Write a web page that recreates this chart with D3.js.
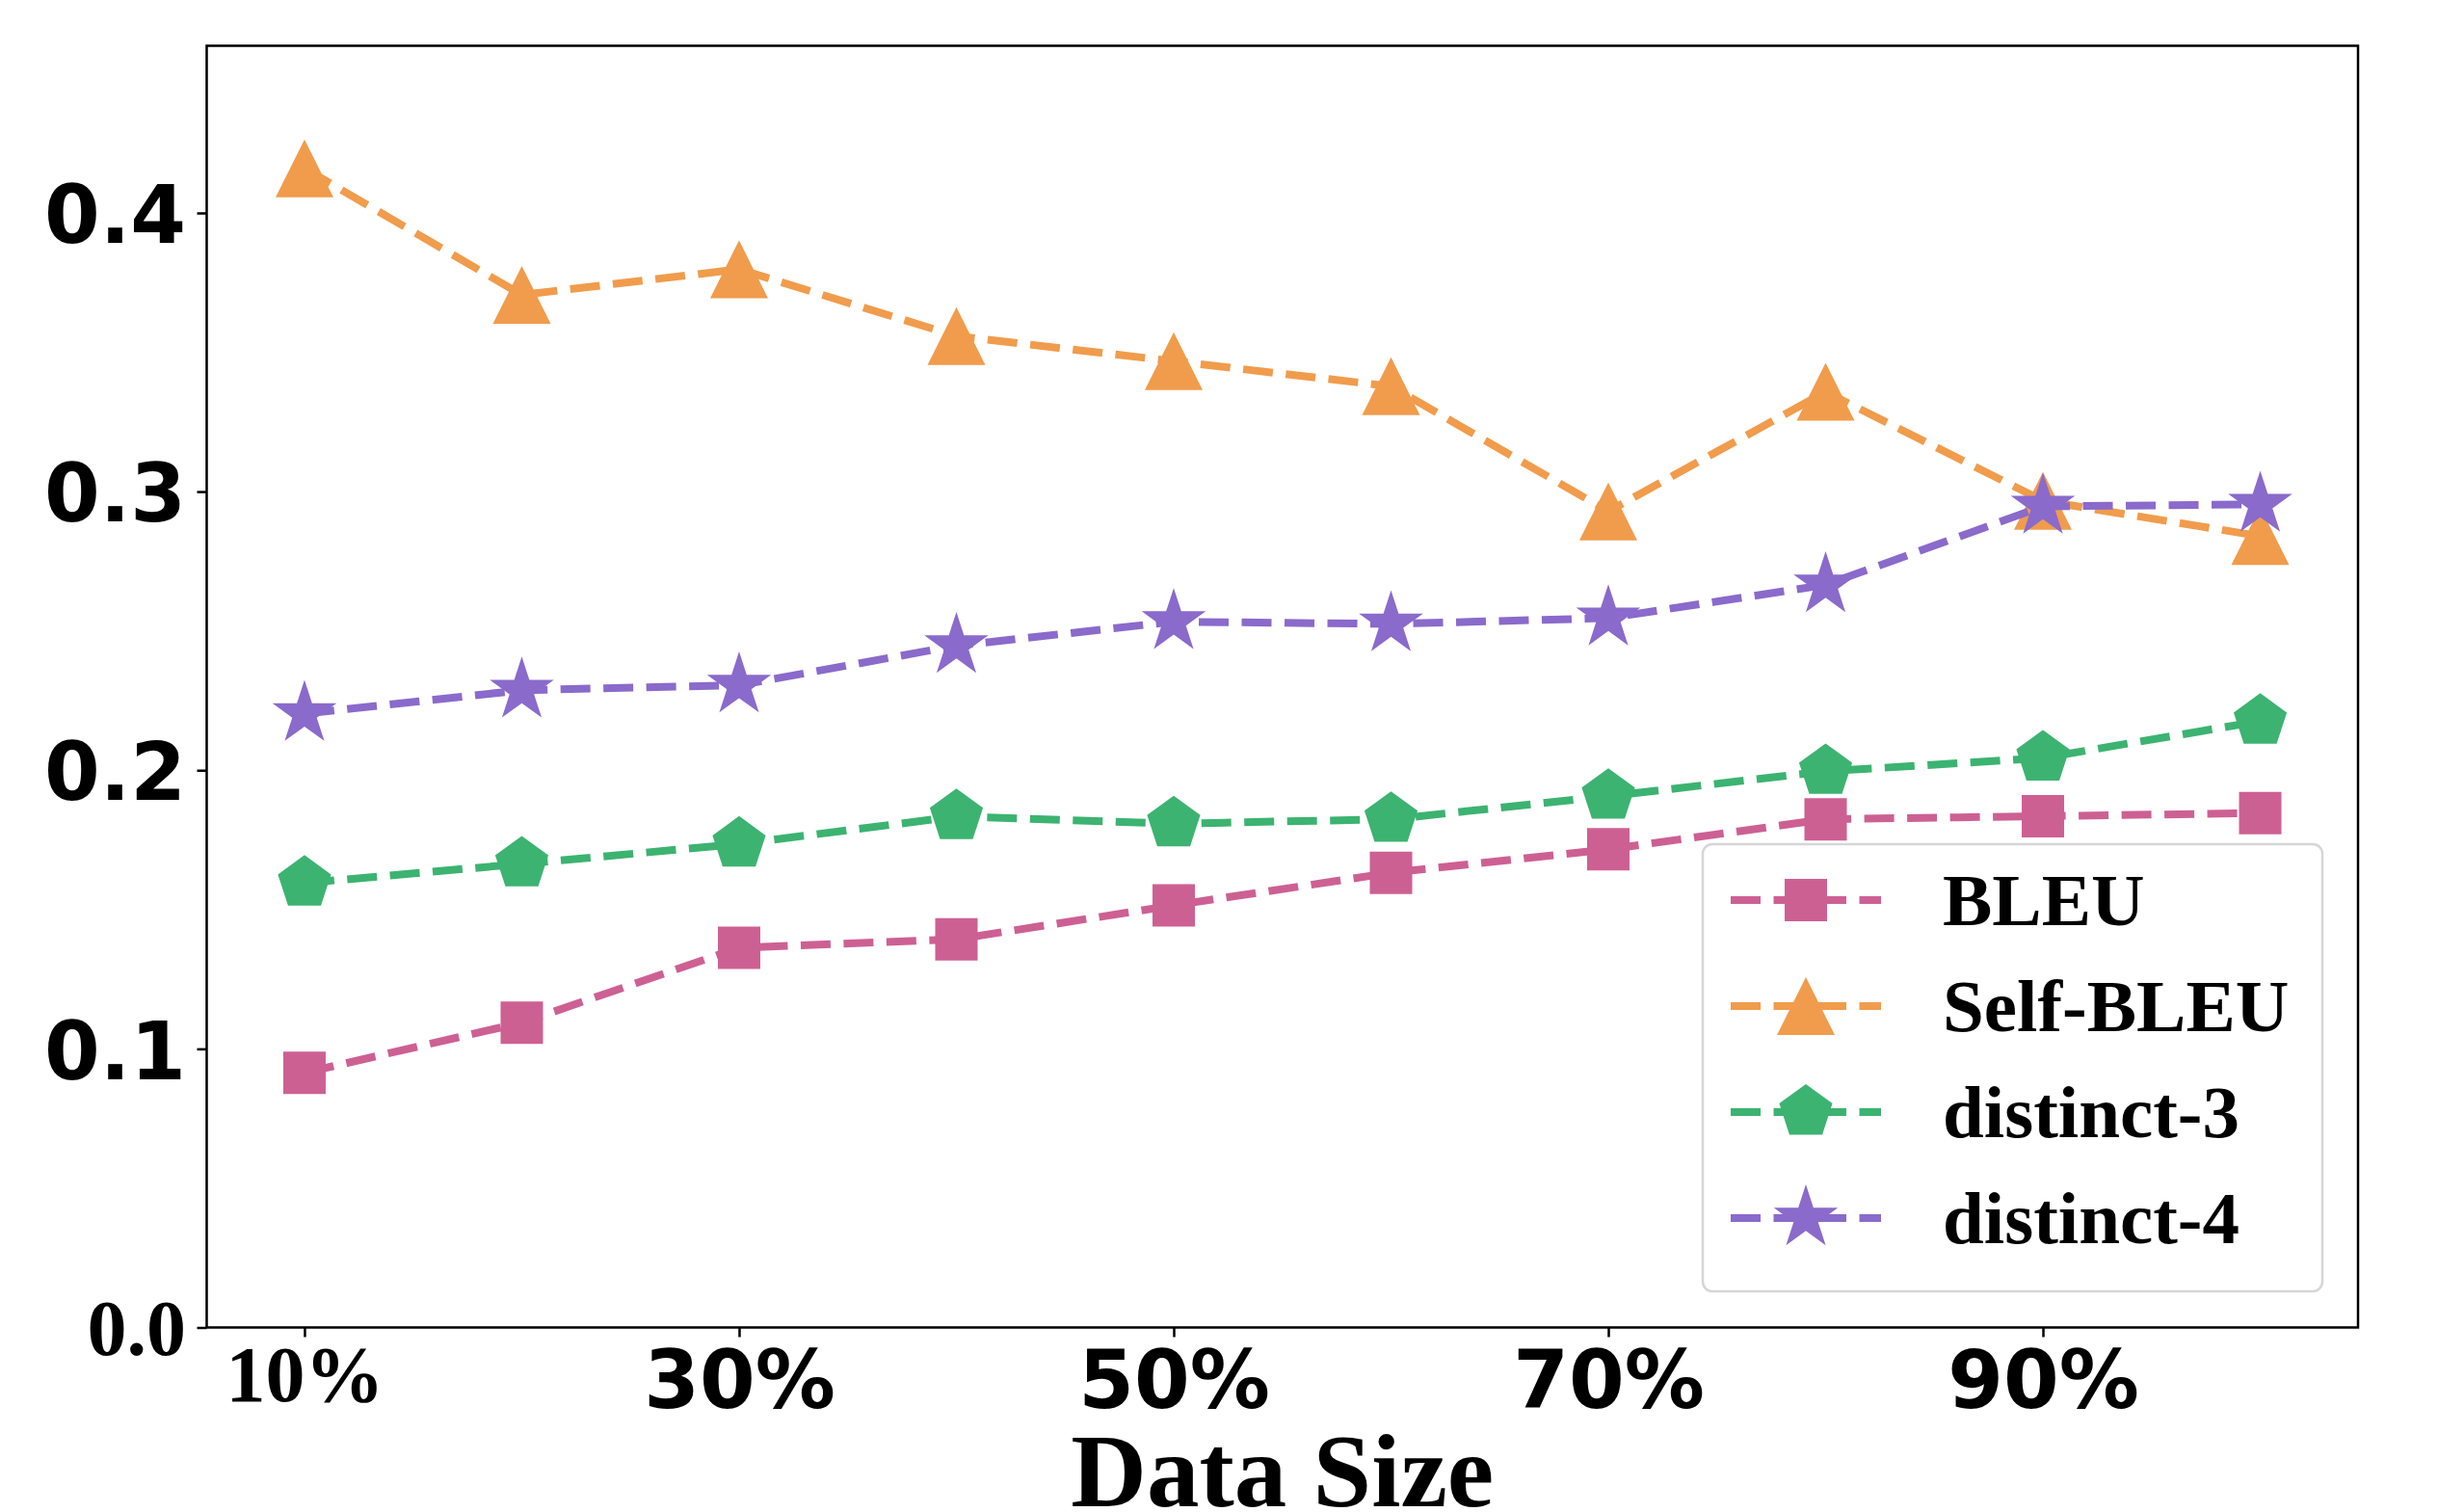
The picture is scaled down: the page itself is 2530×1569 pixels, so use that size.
<!DOCTYPE html>
<html>
<head>
<meta charset="utf-8">
<script src="https://cdn.jsdelivr.net/npm/d3@7"></script>
<style>
  body { margin: 0; background: #fff; }
  svg { display: block; }
</style>
</head>
<body>
<div class="chart"></div>
<script>
var width = 2530, height = 1569,
    margin = {top: 47.5, right: 83, bottom: 191.5, left: 214.5};

// data
var sizes = [10, 20, 30, 40, 50, 60, 70, 80, 90, 100];
var bleu     = [0.0914, 0.1094, 0.1363, 0.1393, 0.1515, 0.1632, 0.1716, 0.1824, 0.1835, 0.1846];
var selfBleu = [0.416, 0.3706, 0.3798, 0.3558, 0.3468, 0.3378, 0.2929, 0.3358, 0.2967, 0.284];
var distinct3 = [0.1595, 0.1664, 0.1735, 0.1834, 0.1808, 0.1824, 0.1907, 0.1996, 0.2044, 0.2176];
var distinct4 = [0.2203, 0.2287, 0.2305, 0.2447, 0.2533, 0.2525, 0.2546, 0.2665, 0.2947, 0.2954];
var seriesNames = ["BLEU", "Self-BLEU", "distinct-3", "distinct-4"];
var xTicks = [10, 30, 50, 70, 90];
var yTicks = [0.0, 0.1, 0.2, 0.3, 0.4];
var xLabel = "Data Size";

var series = [
  {name: seriesNames[0], values: bleu,      color: "#cd6093", marker: "square"},
  {name: seriesNames[1], values: selfBleu,  color: "#f09c4c", marker: "triangle"},
  {name: seriesNames[2], values: distinct3, color: "#3cb371", marker: "pentagon"},
  {name: seriesNames[3], values: distinct4, color: "#8a6acb", marker: "star"}
];

var serif = "'Liberation Serif', 'Times New Roman', serif",
    sans = "'DejaVu Sans', sans-serif";

var svg = d3.select(".chart")
  .append("svg")
    .attr("width", width)
    .attr("height", height);

var x = d3.scaleLinear().domain([5.5, 104.5]).range([margin.left, width - margin.right]);
var y = d3.scaleLinear().domain([0, 0.46]).range([height - margin.bottom, margin.top]);

// marker shapes, centred on 0,0
function markerPath(kind) {
  var pts = [], i, a;
  if (kind == "square") {
    var h = 22;
    pts = [[-h, -h], [h, -h], [h, h], [-h, h]];
  } else if (kind == "triangle") {
    pts = [[0, -30], [-30, 30], [30, 30]];
  } else if (kind == "pentagon") {
    for (i = 0; i < 5; i++) {
      a = -Math.PI / 2 + i * 2 * Math.PI / 5;
      pts.push([29 * Math.cos(a), 29 * Math.sin(a)]);
    }
  } else {
    for (i = 0; i < 10; i++) {
      a = -Math.PI / 2 + i * Math.PI / 5;
      var r = i % 2 ? 35 * 0.381966 : 35;
      pts.push([r * Math.cos(a), r * Math.sin(a)]);
    }
  }
  return d3.line()(pts) + "Z";
}

var line = d3.line()
  .x(function(d, i) { return x(sizes[i]); })
  .y(function(d) { return y(d); });

// lines and markers, one series after another
series.forEach(function(s) {
  var g = svg.append("g");
  g.append("path")
    .attr("d", line(s.values))
    .style("fill", "none")
    .style("stroke", s.color)
    .style("stroke-width", 8)
    .style("stroke-dasharray", "31,13.5");
  g.selectAll("path.mk")
    .data(s.values)
    .enter().append("path")
      .attr("class", "mk")
      .attr("d", markerPath(s.marker))
      .attr("transform", function(d, i) { return "translate(" + x(sizes[i]) + "," + y(d) + ")"; })
      .style("fill", s.color);
});

// frame
svg.append("rect")
  .attr("x", margin.left)
  .attr("y", margin.top)
  .attr("width", width - margin.left - margin.right)
  .attr("height", height - margin.top - margin.bottom)
  .style("fill", "none")
  .style("stroke", "#000")
  .style("stroke-width", 2.5);

// y axis
var yAxis = svg.append("g")
  .attr("transform", "translate(" + margin.left + ",0)")
  .call(d3.axisLeft(y).tickValues(yTicks).tickSize(10).tickPadding(11.5)
    .tickFormat(d3.format(".1f")));
yAxis.select(".domain").remove();
yAxis.selectAll(".tick line").style("stroke", "#000").style("stroke-width", 2.5);
yAxis.selectAll(".tick text")
  .attr("dy", function(d) { return d == 0 ? "0.34em" : "0.37em"; })
  .style("font-family", function(d) { return d == 0 ? serif : sans; })
  .style("font-weight", "bold")
  .style("font-size", function(d) { return d == 0 ? "82px" : "83px"; })
  .style("fill", "#000");

// x axis
var xAxis = svg.append("g")
  .attr("transform", "translate(0," + (height - margin.bottom) + ")")
  .call(d3.axisBottom(x).tickValues(xTicks).tickSize(10)
    .tickFormat(function(d) { return d + "%"; }));
xAxis.select(".domain").remove();
xAxis.selectAll(".tick line").style("stroke", "#000").style("stroke-width", 2.5);
xAxis.selectAll(".tick text")
  .attr("y", function(d) { return d == 10 ? 76.5 : 83; })
  .attr("dy", 0)
  .style("font-family", function(d) { return d == 10 ? serif : sans; })
  .style("font-weight", "bold")
  .style("font-size", function(d) { return d == 10 ? "82px" : "83px"; })
  .style("fill", "#000");

svg.append("text")
  .attr("x", (margin.left + width - margin.right) / 2)
  .attr("y", 1563)
  .attr("text-anchor", "middle")
  .style("font-family", serif)
  .style("font-weight", "bold")
  .style("font-size", "109px")
  .text(xLabel);

// legend
var legend = svg.append("g").attr("transform", "translate(1767,876)");
legend.append("rect")
  .attr("width", 643)
  .attr("height", 464)
  .attr("rx", 10)
  .style("fill", "#fff")
  .style("fill-opacity", 0.8)
  .style("stroke", "#d6d6d6")
  .style("stroke-width", 2.5);

var rows = legend.selectAll("g.row")
  .data(series)
  .enter().append("g")
    .attr("class", "row")
    .attr("transform", function(d, i) { return "translate(0," + (58 + i * 110) + ")"; });
rows.append("line")
  .attr("x1", 29).attr("x2", 185)
  .style("stroke", function(d) { return d.color; })
  .style("stroke-width", 8)
  .style("stroke-dasharray", "31,13.5");
rows.append("path")
  .attr("d", function(d) { return markerPath(d.marker); })
  .attr("transform", "translate(107,0)")
  .style("fill", function(d) { return d.color; });
rows.append("text")
  .attr("x", 249)
  .attr("y", 26)
  .style("font-family", serif)
  .style("font-weight", "bold")
  .style("font-size", "77px")
  .text(function(d) { return d.name; });
</script>
</body>
</html>
